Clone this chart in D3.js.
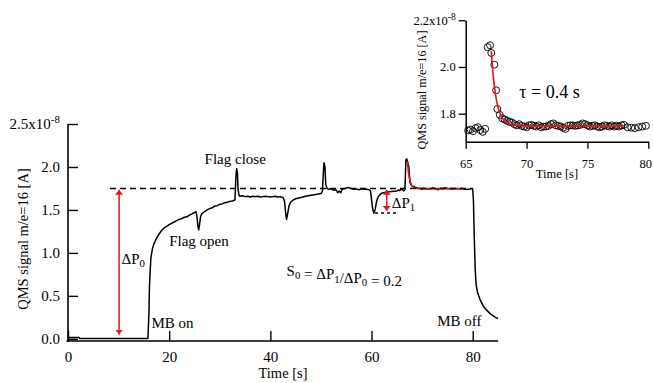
<!DOCTYPE html>
<html>
<head>
<meta charset="utf-8">
<script src="https://cdn.jsdelivr.net/npm/d3@7"></script>
<style>
  html, body { margin: 0; padding: 0; background: #fff; }
  svg { display: block; }
  text { font-family: "Liberation Serif", "Times New Roman", serif; fill: #000; }
</style>
</head>
<body>
<svg id="chart" width="653" height="383"></svg>
<script>
// ---------- data ----------
// main trace, before the inset window (0–65 s)
const mainTimeA = [0, 2.2, 2.3, 5, 8, 12, 15.8, 16.0, 16.1, 16.25, 16.4, 16.7, 17.0, 17.5, 18, 18.5, 19, 19.5, 20, 20.5, 21, 21.5, 22, 22.5, 23, 23.5, 24, 24.5, 25, 25.3, 25.5, 25.7, 25.85, 26.0, 26.2, 26.5, 27, 27.5, 28, 28.5, 29, 29.5, 30, 30.5, 31, 31.5, 32, 32.5, 33.0, 33.1, 33.2, 33.35, 33.5, 33.6, 33.8, 34, 34.5, 35, 35.5, 36, 36.5, 37, 37.5, 38, 38.5, 39, 39.5, 40, 40.5, 41, 41.5, 42, 42.5, 42.8, 43.0, 43.2, 43.4, 43.7, 44, 44.5, 45, 46, 47, 48, 49, 50, 50.3, 50.45, 50.6, 50.8, 50.95, 51.2, 51.5, 52, 52.5, 53, 53.3, 53.6, 53.9, 54.2, 54.6, 55, 55.5, 56, 56.5, 57, 57.5, 58, 58.5, 59, 59.5, 59.8, 60.0, 60.2, 60.45, 60.7, 61, 61.3, 61.7, 62, 63, 64, 65];
const mainSignalA = [0.015, 0.015, 0.005, 0.005, 0.005, 0.005, 0.005, 0.3, 0.6, 0.8, 0.95, 1.05, 1.11, 1.17, 1.22, 1.26, 1.29, 1.31, 1.33, 1.345, 1.36, 1.375, 1.39, 1.40, 1.415, 1.42, 1.44, 1.455, 1.47, 1.48, 1.42, 1.30, 1.27, 1.33, 1.42, 1.46, 1.48, 1.50, 1.515, 1.525, 1.545, 1.55, 1.565, 1.57, 1.585, 1.59, 1.60, 1.605, 1.615, 1.75, 1.90, 1.98, 1.92, 1.75, 1.67, 1.66, 1.665, 1.655, 1.66, 1.65, 1.66, 1.655, 1.66, 1.65, 1.655, 1.66, 1.655, 1.65, 1.655, 1.66, 1.65, 1.655, 1.645, 1.60, 1.48, 1.39, 1.45, 1.55, 1.59, 1.615, 1.63, 1.645, 1.66, 1.67, 1.68, 1.69, 1.72, 1.90, 2.05, 2.00, 1.80, 1.75, 1.74, 1.745, 1.73, 1.735, 1.70, 1.72, 1.70, 1.74, 1.745, 1.755, 1.76, 1.75, 1.74, 1.745, 1.735, 1.745, 1.74, 1.74, 1.735, 1.72, 1.62, 1.52, 1.465, 1.50, 1.60, 1.65, 1.68, 1.695, 1.71, 1.715, 1.72];
// sampled points of the inset window (65–80 s), also part of the main trace
const insetTime = [65.2, 65.4, 65.6, 65.8, 66.0, 66.2, 66.4, 66.6, 66.8, 67.0, 67.1, 67.35, 67.5, 67.6, 67.8, 68.0, 68.2, 68.4, 68.6, 68.8, 69.0, 69.2, 69.4, 69.6, 69.8, 70.0, 70.2, 70.4, 70.6, 70.8, 71.0, 71.2, 71.4, 71.6, 71.8, 72.0, 72.2, 72.4, 72.6, 72.8, 73.0, 73.2, 73.4, 73.6, 73.8, 74.0, 74.2, 74.4, 74.6, 74.8, 75.0, 75.2, 75.4, 75.6, 75.8, 76.0, 76.2, 76.4, 76.6, 76.8, 77.0, 77.2, 77.4, 77.6, 77.8, 78.0, 78.3, 78.6, 78.9, 79.2, 79.5, 79.8];
const insetSignal = [1.728, 1.732, 1.725, 1.738, 1.742, 1.730, 1.722, 1.735, 2.085, 2.093, 2.060, 2.010, 1.900, 1.820, 1.795, 1.780, 1.775, 1.770, 1.765, 1.762, 1.755, 1.750, 1.755, 1.748, 1.745, 1.742, 1.750, 1.752, 1.748, 1.745, 1.750, 1.742, 1.745, 1.745, 1.748, 1.755, 1.758, 1.750, 1.748, 1.745, 1.740, 1.735, 1.748, 1.750, 1.750, 1.748, 1.750, 1.752, 1.758, 1.755, 1.750, 1.745, 1.748, 1.750, 1.745, 1.742, 1.745, 1.750, 1.748, 1.745, 1.750, 1.745, 1.748, 1.745, 1.750, 1.752, 1.742, 1.740, 1.738, 1.742, 1.745, 1.748];
// main trace after the inset window (MB off)
const mainTimeB = [80, 80.15, 80.3, 80.5, 80.7, 81, 81.5, 82, 82.5, 83, 83.5, 84, 84.5, 85];
const mainSignalB = [1.745, 1.60, 1.20, 0.80, 0.62, 0.53, 0.45, 0.39, 0.35, 0.32, 0.29, 0.27, 0.25, 0.235];
// exponential fit (tau = 0.4 s)
const fitTime = [67.1, 67.2, 67.3, 67.4, 67.5, 67.6, 67.7, 67.8, 67.9, 68.0, 68.2, 68.4, 68.6, 68.8, 69.0, 69.4, 69.8, 70.5, 72, 78];
const fitSignal = [2.068, 1.998, 1.944, 1.900, 1.866, 1.840, 1.820, 1.804, 1.790, 1.782, 1.768, 1.760, 1.755, 1.752, 1.751, 1.749, 1.748, 1.748, 1.748, 1.748];
// reference levels / annotations (data units)
const plateauLevel = 1.75, plateauStart = 8.3, plateauEnd = 80;
const dipLevel = 1.465, dipStart = 60.7, dipEnd = 65;
const arrowP0 = { t: 10.1, from: 1.735, to: 0.05 };
const arrowP1 = { t: 63.0, from: 1.735, to: 1.49 };
// ticks
const mainXTicks = [0, 20, 40, 60, 80];
const mainYTicks = [0, 0.5, 1.0, 1.5, 2.0, 2.5];
const insetXTicks = [65, 70, 75, 80];
const insetYTicks = [1.8, 2.0, 2.2];

// ---------- drawing ----------
const RED = "#e3121b";
const svg = d3.select("#chart");

const defs = svg.append("defs");
defs.append("marker").attr("id", "ah").attr("viewBox", "0 0 10 10")
  .attr("refX", 10).attr("refY", 5).attr("markerWidth", 5).attr("markerHeight", 8)
  .attr("markerUnits", "userSpaceOnUse").attr("orient", "auto")
  .attr("preserveAspectRatio", "none")
  .append("path").attr("d", "M0,0 L10,5 L0,10 Z").attr("fill", RED);

// main scales
const x = d3.scaleLinear().domain([0, 85]).range([68, 498]);
const y = d3.scaleLinear().domain([-0.025, 2.5]).range([341, 124]);

const mainPts = [];
mainTimeA.forEach((t, i) => mainPts.push([t, mainSignalA[i]]));
insetTime.forEach((t, i) => mainPts.push([t, insetSignal[i]]));
mainTimeB.forEach((t, i) => mainPts.push([t, mainSignalB[i]]));
const fitPts = fitTime.map((t, i) => [t, fitSignal[i]]);

const line = d3.line().x(d => x(d[0])).y(d => y(d[1]));

const g = svg.append("g");
g.append("path").datum(mainPts).attr("d", line)
  .attr("fill", "none").attr("stroke", "#000").attr("stroke-width", 1.5).attr("stroke-linejoin", "round");
g.append("path").datum(fitPts).attr("d", line.curve(d3.curveMonotoneX))
  .attr("fill", "none").attr("stroke", RED).attr("stroke-width", 1.6);
line.curve(d3.curveLinear);

// dashed reference lines
g.append("line").attr("x1", x(plateauStart)).attr("x2", x(plateauEnd))
  .attr("y1", y(plateauLevel)).attr("y2", y(plateauLevel))
  .attr("stroke", "#000").attr("stroke-width", 1.4).attr("stroke-dasharray", "6,4");
g.append("line").attr("x1", x(dipStart)).attr("x2", x(dipEnd))
  .attr("y1", y(dipLevel)).attr("y2", y(dipLevel))
  .attr("stroke", "#000").attr("stroke-width", 1.4).attr("stroke-dasharray", "3,3");

// arrows
[arrowP0, arrowP1].forEach(a => {
  const mid = (a.from + a.to) / 2;
  g.append("line").attr("x1", x(a.t)).attr("x2", x(a.t))
    .attr("y1", y(mid)).attr("y2", y(a.from))
    .attr("stroke", RED).attr("stroke-width", 1.5).attr("marker-end", "url(#ah)");
  g.append("line").attr("x1", x(a.t)).attr("x2", x(a.t))
    .attr("y1", y(mid)).attr("y2", y(a.to))
    .attr("stroke", RED).attr("stroke-width", 1.5).attr("marker-end", "url(#ah)");
});

// main axes
const xAxis = d3.axisBottom(x).tickValues(mainXTicks).tickSize(-10).tickSizeOuter(0).tickPadding(10)
  .tickFormat(d3.format("d"));
const yAxis = d3.axisLeft(y).tickValues(mainYTicks).tickSize(-10).tickSizeOuter(0).tickPadding(8)
  .tickFormat(d3.format(".1f"));
const gx = svg.append("g").attr("transform", "translate(0,341)").call(xAxis);
const gy = svg.append("g").attr("transform", "translate(68,0)").call(yAxis);
[gx, gy].forEach(ax => {
  ax.select(".domain").attr("stroke", "#000").attr("stroke-width", 1.6);
  ax.selectAll(".tick line").attr("stroke", "#000").attr("stroke-width", 1.4);
  ax.selectAll(".tick text").attr("font-family", "Liberation Serif").attr("font-size", 15).attr("fill", "#000");
});
gx.select(".domain").attr("d", "M66.5,0H498");
gy.select(".domain").attr("d", "M0,124V342");
gy.selectAll(".tick text").filter(d => d === 2.5).each(function () {
  const t = d3.select(this);
  t.text("2.5x10");
  t.append("tspan").attr("dy", "-0.55em").attr("font-size", 11).text("-8");
});

svg.append("text").attr("x", 283).attr("y", 378).attr("text-anchor", "middle")
  .attr("font-size", 14.5).text("Time [s]");
svg.append("text").attr("transform", "translate(28,239) rotate(-90)").attr("text-anchor", "middle")
  .attr("font-size", 14.5).text("QMS signal m/e=16 [A]");

// annotations
function ann(t, v, parts, size) {
  const tx = svg.append("text").attr("x", x(t)).attr("y", y(v)).attr("font-size", size || 15);
  parts.forEach(p => {
    if (typeof p === "string") tx.append("tspan").text(p);
    else tx.append("tspan").attr("font-size", (size || 15) * 0.72).attr("dy", p.dy).text(p.s);
  });
  return tx;
}
ann(27.0, 2.035, ["Flag close"]);
ann(20.0, 1.08, ["Flag open"]);
ann(16.5, 0.126, ["MB on"]);
ann(73.0, 0.153, ["MB off"]);
ann(10.6, 0.87, ["\u0394P", { s: "0", dy: "0.3em" }]);
ann(64.0, 1.52, ["\u0394P", { s: "1", dy: "0.3em" }]);
ann(43.2, 0.731, ["S", { s: "0", dy: "0.3em" }, { s: "", dy: "-0.3em" }, " = \u0394P", { s: "1", dy: "0.3em" },
  { s: "", dy: "-0.3em" }, "/\u0394P", { s: "0", dy: "0.3em" }, { s: "", dy: "-0.3em" }, "  = 0.2"]);

// ---------- inset ----------
const xi = d3.scaleLinear().domain([65, 80]).range([465.7, 648.3]);
const yi = d3.scaleLinear().domain([1.68, 2.2]).range([141.7, 20.3]);
const lineI = d3.line().x(d => xi(d[0])).y(d => yi(d[1])).curve(d3.curveMonotoneX);

const gi = svg.append("g");
gi.selectAll("circle").data(insetTime.map((t, i) => [t, insetSignal[i]])).enter().append("circle")
  .attr("cx", d => xi(d[0])).attr("cy", d => yi(d[1])).attr("r", 3.5)
  .attr("fill", "none").attr("stroke", "#000").attr("stroke-width", 0.9);
gi.append("path").datum(fitPts).attr("d", lineI)
  .attr("fill", "none").attr("stroke", RED).attr("stroke-width", 1.6);

const xiAxis = d3.axisBottom(xi).tickValues(insetXTicks).tickSize(7).tickSizeOuter(0).tickPadding(10)
  .tickFormat(d3.format("d"));
const yiAxis = d3.axisLeft(yi).tickValues(insetYTicks).tickSize(7).tickSizeOuter(0).tickPadding(3)
  .tickFormat(d3.format(".1f"));
const gxi = svg.append("g").attr("transform", "translate(0,141.7)").call(xiAxis);
const gyi = svg.append("g").attr("transform", "translate(465.7,0)").call(yiAxis);
[gxi, gyi].forEach(ax => {
  ax.select(".domain").attr("stroke", "#000").attr("stroke-width", 1.5);
  ax.selectAll(".tick line").attr("stroke", "#000").attr("stroke-width", 1.3);
  ax.selectAll(".tick text").attr("font-family", "Liberation Serif").attr("font-size", 12.5).attr("fill", "#000");
});
gxi.selectAll(".tick text").filter(d => d === 80).attr("text-anchor", "end").attr("dx", "0.25em");
gyi.selectAll(".tick text").filter(d => d === 2.2).each(function () {
  const t = d3.select(this);
  t.text("2.2x10");
  t.append("tspan").attr("dy", "-0.55em").attr("font-size", 9.5).text("-8");
});
svg.append("text").attr("x", 557).attr("y", 178).attr("text-anchor", "middle")
  .attr("font-size", 12.5).text("Time [s]");
svg.append("text").attr("transform", "translate(426,90) rotate(-90)").attr("text-anchor", "middle")
  .attr("font-size", 12.2).text("QMS signal m/e=16 [A]");
svg.append("text").attr("x", xi(69.4)).attr("y", yi(1.867)).attr("font-size", 18)
  .text("\u03C4 = 0.4 s");
</script>
</body>
</html>
